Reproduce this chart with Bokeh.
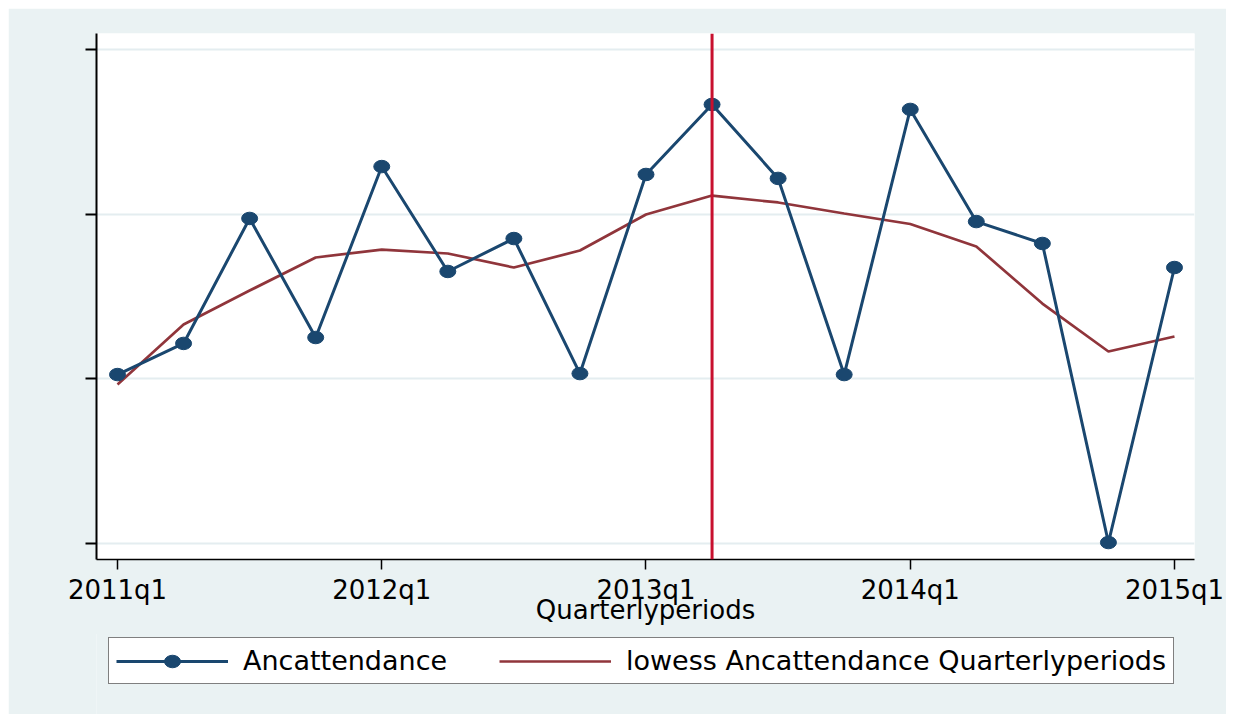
from bokeh.plotting import figure
from bokeh.layouts import column
from bokeh.models import (Range1d, Span, Legend, LegendItem, FixedTicker,
                          CustomJSTickFormatter, ColumnDataSource)
from bokeh.embed import file_html
from bokeh.resources import INLINE

quarters = ["2011q1", "2011q2", "2011q3", "2011q4",
            "2012q1", "2012q2", "2012q3", "2012q4",
            "2013q1", "2013q2", "2013q3", "2013q4",
            "2014q1", "2014q2", "2014q3", "2014q4",
            "2015q1"]
ancattendance = [1.026, 1.215, 1.974, 1.251,
                 2.289, 1.652, 1.852, 1.032,
                 2.241, 2.666, 2.217, 1.026,
                 2.636, 1.955, 1.822, 0.006,
                 1.676]
lowess = [0.966, 1.330, 1.536, 1.737,
          1.785, 1.761, 1.676, 1.779,
          1.998, 2.113, 2.071, 2.004,
          1.940, 1.804, 1.457, 1.166,
          1.257]
x_tick_labels = ["2011q1", "2012q1", "2013q1", "2014q1", "2015q1"]
y_ticks = [0, 1, 2, 3]
event_quarter = "2013q2"
legend_labels = ["Ancattendance", "lowess Ancattendance Quarterlyperiods"]

xidx = list(range(len(quarters)))
src = ColumnDataSource(dict(x=xidx, y=ancattendance, lw=lowess))

FONT = "DejaVu Sans"
NAVY = "#1A476F"
MAROON = "#90353B"
BG = "#EAF2F3"

p = figure(frame_width=1098, frame_height=526,
           min_border_left=88, min_border_right=32,
           min_border_top=25, min_border_bottom=75,
           margin=(8, 0, 0, 8),
           x_range=Range1d(-0.318, 16.303), y_range=Range1d(-0.097, 3.097),
           output_backend="svg", toolbar_location=None,
           border_fill_color=BG, background_fill_color="white")
p.outline_line_color = None

# grid
p.xgrid.grid_line_color = None
p.ygrid.grid_line_color = "#E4EDF0"
p.ygrid.grid_line_width = 2

# x axis
xt = [quarters.index(q) for q in x_tick_labels]
p.xaxis.ticker = FixedTicker(ticks=xt)
p.xaxis.major_label_overrides = {i: quarters[i] for i in xt}
p.xaxis.minor_tick_line_color = None
p.xaxis.major_tick_out = 10
p.xaxis.major_tick_in = 0
p.xaxis.major_tick_line_width = 1.5
p.xaxis.axis_line_width = 1.5
p.xaxis.axis_line_color = "black"
p.xaxis.major_label_text_font = FONT
p.xaxis.major_label_text_font_size = "26px"
p.xaxis.major_label_text_color = "black"
p.xaxis.major_label_standoff = 5
p.xaxis.axis_label = "Quarterlyperiods"
p.xaxis.axis_label_text_font = FONT
p.xaxis.axis_label_text_font_size = "26px"
p.xaxis.axis_label_text_font_style = "normal"
p.xaxis.axis_label_text_color = "black"
p.xaxis.axis_label_standoff = -13

# y axis (ticks, no labels)
p.yaxis.ticker = FixedTicker(ticks=y_ticks)
p.yaxis.formatter = CustomJSTickFormatter(code="return ''")
p.yaxis.minor_tick_line_color = None
p.yaxis.major_tick_out = 11
p.yaxis.major_tick_in = 0
p.yaxis.major_tick_line_width = 2
p.yaxis.axis_line_width = 2
p.yaxis.axis_line_color = "black"


def draw_series(fig):
    lw_r = fig.line("x", "lw", source=src, line_color=MAROON, line_width=2.7)
    bl_r = fig.line("x", "y", source=src, line_color=NAVY, line_width=3)
    be_r = fig.ellipse("x", "y", source=src, width=16, height=12.5,
                       width_units="screen", height_units="screen",
                       fill_color=NAVY, line_color=NAVY)
    return lw_r, bl_r, be_r


draw_series(p)
p.add_layout(Span(location=quarters.index(event_quarter), dimension="height",
                  line_color="#C8102E", line_width=3))

# legend strip (same series, keyed below the plot)
p2 = figure(frame_width=1218, frame_height=82,
            min_border_left=0, min_border_right=0,
            min_border_top=0, min_border_bottom=0,
            margin=(-2, 0, 0, 8),
            x_range=Range1d(-200, -199), y_range=Range1d(-200, -199),
            x_axis_type=None, y_axis_type=None,
            output_backend="svg", toolbar_location=None,
            border_fill_color=BG, background_fill_color=BG)
p2.outline_line_color = None
p2.grid.visible = False
lw2, bl2, be2 = draw_series(p2)

legend = Legend(items=[
    LegendItem(label=legend_labels[0], renderers=[bl2, be2]),
    LegendItem(label=legend_labels[1], renderers=[lw2]),
], orientation="horizontal", location=(100, 30))
legend.label_text_font = FONT
legend.label_text_font_size = "27px"
legend.label_text_color = "black"
legend.glyph_width = 112
legend.glyph_height = 20
legend.label_standoff = 15
legend.label_width = 206
legend.spacing = 50
legend.padding = 7
legend.margin = 0
legend.border_line_color = "black"
legend.border_line_width = 1.5
legend.background_fill_color = "white"
legend.background_fill_alpha = 1
p2.add_layout(legend, "center")

root = column(p, p2, spacing=0)
open("out.html", "w").write(file_html(root, INLINE))
